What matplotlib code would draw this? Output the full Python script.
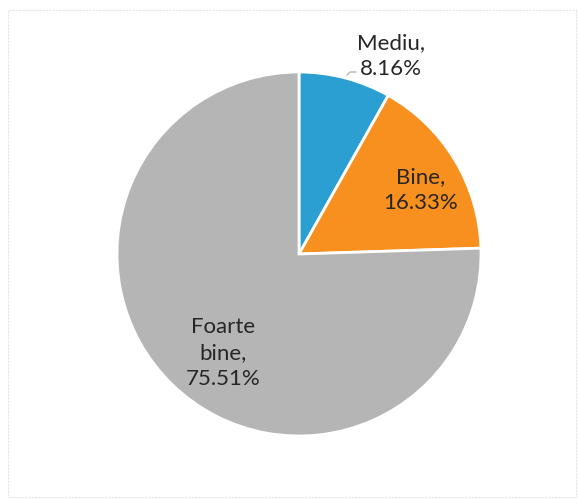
import matplotlib
matplotlib.use("Agg")
import matplotlib.pyplot as plt
from matplotlib.patches import Rectangle

categories = ["Mediu", "Bine", "Foarte bine"]
values = [8.16, 16.33, 75.51]
label_texts = ["Mediu,\n8.16%", "Bine,\n16.33%", "Foarte\nbine,\n75.51%"]
colors = ["#2c9fd2", "#f7901e", "#b5b5b5"]

W, H = 578, 499
fig = plt.figure(figsize=(W / 100, H / 100), dpi=100)
fig.patch.set_facecolor("white")

# faint outer border
fig.patches.append(Rectangle((8 / W, 2 / H), 568 / W, 487 / H, transform=fig.transFigure,
                             fill=False, edgecolor="#e2e6e6", linewidth=0.8, linestyle=(0, (2, 1))))

cx, cy, r = 299, 254, 182
ax = fig.add_axes([(cx - r) / W, 1 - (cy + r) / H, 2 * r / W, 2 * r / H])
ax.pie(values, colors=colors, startangle=90, counterclock=False,
       wedgeprops=dict(edgecolor="white", linewidth=2))
ax.set_xlim(-1, 1)
ax.set_ylim(-1, 1)
ax.set_aspect("equal")
ax.axis("off")

font = dict(family=["Lato", "DejaVu Sans"], fontsize=16, color="#262626",
            ha="center", va="center", linespacing=1.35)

def px(x, y):
    return x / W, 1 - y / H

positions = [(391, 56), (421, 190), (223, 353)]
for txt, (x, y) in zip(label_texts, positions):
    fig.text(*px(x, y), txt, **font)

# leader line for Mediu
fig.add_artist(plt.Line2D([347 / W, 350 / W, 356 / W], [1 - 75 / H, 1 - 72 / H, 1 - 72 / H],
                          color="#a6a6a6", linewidth=0.8))

fig.savefig("out.png", dpi=100)
